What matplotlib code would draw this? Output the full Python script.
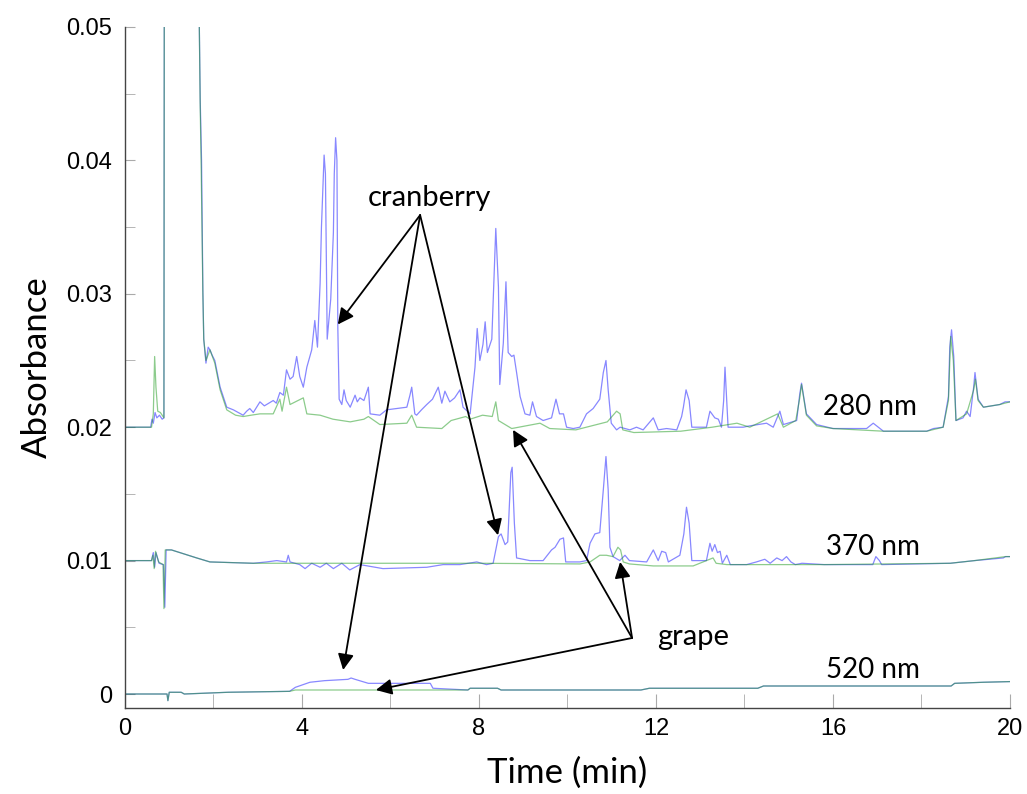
import matplotlib
matplotlib.use("Agg")
import matplotlib.pyplot as plt
from matplotlib.ticker import MultipleLocator, FixedLocator, FixedFormatter

# ---- data (time in min, absorbance) ----
t280_cran = [0.00, 0.58, 0.61, 0.64, 0.68, 0.72, 0.78, 0.84, 0.88, 0.89, 1.67, 1.68, 1.70, 1.73,
             1.76, 1.78, 1.83, 1.88, 1.92, 1.97, 2.03, 2.15, 2.30, 2.45, 2.67, 2.75, 2.82, 2.90,
             3.05, 3.15, 3.35, 3.42, 3.50, 3.58, 3.65, 3.73, 3.80, 3.88, 3.95, 4.03, 4.11, 4.22,
             4.29, 4.35, 4.41, 4.44, 4.48, 4.50, 4.53, 4.57, 4.65, 4.71, 4.73, 4.76, 4.79, 4.81,
             4.84, 4.90, 4.95, 5.00, 5.09, 5.20, 5.25, 5.31, 5.40, 5.50, 5.54, 5.76, 5.91, 6.14,
             6.37, 6.44, 6.48, 6.55, 6.59, 6.70, 6.82, 6.95, 7.08, 7.16, 7.23, 7.34, 7.45, 7.57,
             7.64, 7.80, 7.91, 7.96, 8.02, 8.09, 8.14, 8.19, 8.29, 8.35, 8.38, 8.44, 8.47, 8.55,
             8.61, 8.66, 8.74, 8.79, 8.85, 8.93, 9.04, 9.15, 9.21, 9.30, 9.45, 9.64, 9.74, 9.82,
             9.91, 9.98, 10.13, 10.28, 10.43, 10.58, 10.73, 10.81, 10.87, 10.92, 10.99, 11.11,
             11.19, 11.41, 11.56, 11.71, 11.94, 12.05, 12.24, 12.47, 12.58, 12.62, 12.68, 12.75,
             12.81, 13.14, 13.22, 13.33, 13.41, 13.48, 13.53, 13.56, 13.60, 13.63, 13.97, 14.12,
             14.50, 14.65, 14.80, 14.88, 15.18, 15.25, 15.29, 15.40, 15.63, 16.00, 16.76, 16.91,
             17.14, 18.12, 18.27, 18.49, 18.61, 18.64, 18.68, 18.73, 18.78, 18.94, 19.02, 19.10,
             19.18, 19.21, 19.28, 19.40, 19.77, 19.89, 20.00]
a280_cran = [0.0200, 0.0200, 0.0206, 0.0203, 0.0211, 0.0207, 0.0209, 0.0206, 0.0207, 0.0600, 0.0600, 0.0500, 0.0446, 0.0400,
             0.0303, 0.0266, 0.0248, 0.0260, 0.0258, 0.0254, 0.0250, 0.0230, 0.0215, 0.0213, 0.0209, 0.0212, 0.0214, 0.0211,
             0.0219, 0.0216, 0.0220, 0.0218, 0.0226, 0.0224, 0.0243, 0.0236, 0.0238, 0.0253, 0.0238, 0.0230, 0.0245, 0.0258,
             0.0280, 0.0260, 0.0308, 0.0350, 0.0385, 0.0404, 0.0390, 0.0266, 0.0296, 0.0346, 0.0390, 0.0417, 0.0400, 0.0275,
             0.0221, 0.0217, 0.0228, 0.0220, 0.0215, 0.0224, 0.0219, 0.0222, 0.0220, 0.0230, 0.0210, 0.0209, 0.0213, 0.0214,
             0.0215, 0.0224, 0.0230, 0.0210, 0.0209, 0.0213, 0.0217, 0.0221, 0.0230, 0.0218, 0.0227, 0.0219, 0.0222, 0.0228,
             0.0215, 0.0210, 0.0245, 0.0274, 0.0250, 0.0262, 0.0279, 0.0256, 0.0266, 0.0320, 0.0349, 0.0305, 0.0232, 0.0263,
             0.0309, 0.0256, 0.0253, 0.0254, 0.0241, 0.0223, 0.0210, 0.0209, 0.0219, 0.0208, 0.0205, 0.0207, 0.0221, 0.0210,
             0.0210, 0.0200, 0.0199, 0.0200, 0.0210, 0.0214, 0.0221, 0.0241, 0.0250, 0.0228, 0.0203, 0.0198,
             0.0200, 0.0198, 0.0200, 0.0198, 0.0207, 0.0198, 0.0199, 0.0198, 0.0208, 0.0215, 0.0228, 0.0220,
             0.0200, 0.0200, 0.0212, 0.0207, 0.0206, 0.0200, 0.0220, 0.0245, 0.0220, 0.0200, 0.0200, 0.0201,
             0.0203, 0.0200, 0.0212, 0.0202, 0.0205, 0.0225, 0.0233, 0.0210, 0.0202, 0.0199, 0.0199, 0.0203,
             0.0197, 0.0197, 0.0199, 0.0200, 0.0223, 0.0260, 0.0273, 0.0253, 0.0205, 0.0207, 0.0212, 0.0208,
             0.0230, 0.0241, 0.0221, 0.0215, 0.0217, 0.0219, 0.0219]

t280_grape = [0.00, 0.60, 0.64, 0.67, 0.70, 0.74, 0.80, 0.88, 0.89, 1.67, 1.68, 1.70, 1.72, 1.76, 1.78,
              1.83, 1.92, 2.03, 2.15, 2.30, 2.50, 2.67, 2.85, 3.05, 3.35, 3.50, 3.55, 3.65, 3.73, 4.03,
              4.11, 4.41, 4.70, 5.09, 5.40, 5.50, 5.76, 6.37, 6.48, 6.59, 7.16, 7.37, 7.70, 7.80, 8.08,
              8.30, 8.38, 8.44, 8.74, 9.38, 9.60, 10.19, 10.90, 11.11, 11.19, 11.25, 11.50, 12.56, 13.27,
              13.83, 14.12, 14.75, 14.88, 15.16, 15.25, 15.29, 15.40, 15.63, 16.00, 17.14, 18.12, 18.49,
              18.61, 18.66, 18.72, 18.78, 19.02, 19.18, 19.22, 19.28, 19.40, 19.77, 20.00]
a280_grape = [0.0200, 0.0200, 0.0210, 0.0253, 0.0230, 0.0212, 0.0211, 0.0207, 0.0600, 0.0600, 0.0500, 0.0440, 0.0400, 0.0300, 0.0266,
              0.0250, 0.0258, 0.0248, 0.0228, 0.0213, 0.0209, 0.0208, 0.0209, 0.0210, 0.0210, 0.0221, 0.0212, 0.0230, 0.0217, 0.0222,
              0.0210, 0.0209, 0.0206, 0.0204, 0.0206, 0.0208, 0.0202, 0.0203, 0.0209, 0.0200, 0.0199, 0.0205, 0.0208, 0.0206, 0.0209,
              0.0208, 0.0219, 0.0205, 0.0199, 0.0203, 0.0199, 0.0198, 0.0204, 0.0212, 0.0210, 0.0198, 0.0196, 0.0197, 0.0200,
              0.0203, 0.0200, 0.0210, 0.0200, 0.0205, 0.0222, 0.0232, 0.0209, 0.0201, 0.0199, 0.0197, 0.0197, 0.0200,
              0.0220, 0.0268, 0.0250, 0.0205, 0.0210, 0.0228, 0.0236, 0.0220, 0.0215, 0.0217, 0.0219]

t370_cran = [0.00, 0.60, 0.64, 0.67, 0.70, 0.77, 0.87, 0.90, 0.93, 1.05, 1.24, 1.62, 1.92, 2.90, 3.20,
             3.43, 3.65, 3.69, 3.73, 3.95, 4.07, 4.22, 4.41, 4.55, 4.71, 4.90, 5.08, 5.31, 5.83, 6.82,
             7.19, 7.57, 7.95, 8.17, 8.32, 8.44, 8.50, 8.59, 8.65, 8.72, 8.75, 8.80, 8.85, 9.15, 9.45,
             9.64, 9.72, 9.83, 9.91, 9.96, 10.28, 10.43, 10.51, 10.62, 10.73, 10.81, 10.87, 10.92, 10.96,
             11.03, 11.18, 11.30, 11.40, 11.79, 11.94, 12.05, 12.13, 12.22, 12.28, 12.54, 12.63, 12.69,
             12.75, 12.81, 13.14, 13.22, 13.27, 13.33, 13.39, 13.45, 13.50, 13.60, 13.68, 14.05, 14.27,
             14.46, 14.58, 14.73, 14.85, 14.95, 15.05, 15.15, 15.30, 15.80, 16.90, 16.97, 17.05, 17.10,
             18.65, 19.20, 19.85, 19.90, 20.00]
a370_cran = [0.0100, 0.0100, 0.0106, 0.0095, 0.0106, 0.0098, 0.0097, 0.0065, 0.0108, 0.0108, 0.0106, 0.0102, 0.0099, 0.0098, 0.0099,
             0.0100, 0.0099, 0.0104, 0.0099, 0.0097, 0.0094, 0.0098, 0.0095, 0.0098, 0.0094, 0.0098, 0.0093, 0.0097, 0.0094, 0.0095,
             0.0097, 0.0097, 0.0099, 0.0097, 0.0098, 0.0118, 0.0120, 0.0112, 0.0114, 0.0166, 0.0170, 0.0128, 0.0102, 0.0100, 0.0100,
             0.0108, 0.0110, 0.0116, 0.0117, 0.0099, 0.0099, 0.0100, 0.0113, 0.0120, 0.0121, 0.0153, 0.0178, 0.0153, 0.0110,
             0.0103, 0.0100, 0.0104, 0.0100, 0.0099, 0.0108, 0.0100, 0.0107, 0.0106, 0.0099, 0.0104, 0.0120, 0.0140,
             0.0128, 0.0100, 0.0100, 0.0113, 0.0107, 0.0112, 0.0106, 0.0107, 0.0098, 0.0104, 0.0097, 0.0097, 0.0099,
             0.0101, 0.0098, 0.0102, 0.0100, 0.0103, 0.0099, 0.0097, 0.0098, 0.0097, 0.0097, 0.0103, 0.0100, 0.0097,
             0.0098, 0.0100, 0.0102, 0.0103, 0.0103]

t370_grape = [0.00, 0.60, 0.63, 0.66, 0.69, 0.76, 0.86, 0.88, 0.91, 1.05, 1.24, 1.62, 1.92, 2.90, 3.50,
              8.00, 10.28, 10.51, 10.73, 10.88, 11.03, 11.14, 11.20, 11.26, 11.40, 11.94, 12.84, 13.29,
              13.36, 13.60, 15.80, 18.65, 19.20, 19.90, 20.00]
a370_grape = [0.0100, 0.0100, 0.0104, 0.0094, 0.0107, 0.0099, 0.0097, 0.0064, 0.0108, 0.0108, 0.0106, 0.0102, 0.0099, 0.0098, 0.0098,
              0.0098, 0.00975, 0.0099, 0.0104, 0.0104, 0.0103, 0.0110, 0.0108, 0.0099, 0.00975, 0.0096, 0.0096, 0.0102,
              0.0098, 0.0097, 0.0097, 0.0098, 0.0100, 0.0103, 0.0103]

t520_cran = [0.00, 0.95, 0.97, 1.00, 1.27, 1.34, 2.33, 3.72, 3.85, 4.18, 4.51, 5.04, 5.11, 5.20, 5.50,
             6.90, 6.96, 7.75, 7.80, 8.42, 8.50, 11.66, 11.85, 14.30, 14.43, 18.67, 18.75, 19.40, 20.00]
a520_cran = [0.0000, 0.0000, -0.0005, 0.00013, 0.00013, 0.0000, 0.00013, 0.0002, 0.0005, 0.00088, 0.0010, 0.0011, 0.0012, 0.0011, 0.0008,
             0.0008, 0.00043, 0.0003, 0.00043, 0.00043, 0.0003, 0.0003, 0.00043, 0.00043, 0.0006, 0.0006, 0.0008, 0.00088, 0.00093]

t520_grape = [0.00, 0.95, 0.97, 1.00, 1.27, 1.34, 2.33, 3.72, 3.85, 7.75, 7.80, 8.42, 8.50, 11.66, 11.85,
              14.30, 14.43, 18.67, 18.75, 19.40, 20.00]
a520_grape = [0.0000, 0.0000, -0.0005, 0.00013, 0.00013, 0.0000, 0.00013, 0.0002, 0.0003, 0.0003, 0.00043, 0.00043, 0.0003, 0.0003, 0.00043,
              0.00043, 0.0006, 0.0006, 0.0008, 0.00088, 0.00093]

x_ticks = [0, 4, 8, 12, 16, 20]
y_ticks = [0, 0.01, 0.02, 0.03, 0.04, 0.05]
y_tick_labels = ["0", "0.01", "0.02", "0.03", "0.04", "0.05"]

wavelength_labels = ["280 nm", "370 nm", "520 nm"]
wavelength_pos = [(15.77, 0.0215), (15.84, 0.0110), (15.84, 0.0018)]

cran_text = (6.89, 0.0372)
cran_src = (6.67, 0.0359)
cran_targets = [(4.81, 0.0277), (8.43, 0.0119), (4.93, 0.0018)]
grape_text = (12.02, 0.0043)
grape_src = (11.46, 0.0042)
grape_targets = [(8.77, 0.0198), (11.19, 0.0099), (5.67, 0.0003)]

label_font = ["Lato", "DejaVu Sans"]

fig = plt.figure(figsize=(10.27, 7.94), dpi=100)
ax = fig.add_axes([0.1217, 0.1083, 0.8617, 0.8577])

green = (0.1, 0.6, 0.1)
blue = (0.15, 0.15, 1.0)
for tt, aa in [(t280_cran, a280_cran), (t370_cran, a370_cran), (t520_cran, a520_cran)]:
    ax.plot(tt, aa, color=blue, lw=0.9, alpha=0.55)
for tt, aa in [(t280_grape, a280_grape), (t370_grape, a370_grape), (t520_grape, a520_grape)]:
    ax.plot(tt, aa, color=green, lw=0.9, alpha=0.5)

ax.set_xlim(0, 20)
ax.set_ylim(-0.00105, 0.05)

ax.xaxis.set_major_locator(FixedLocator(x_ticks))
ax.xaxis.set_minor_locator(MultipleLocator(2))
ax.yaxis.set_major_locator(FixedLocator(y_ticks))
ax.yaxis.set_major_formatter(FixedFormatter(y_tick_labels))
ax.yaxis.set_minor_locator(MultipleLocator(0.005))
ax.tick_params(axis="x", which="both", direction="in", length=10, color="#aaaaaa",
               labelsize=17, pad=7)
ax.tick_params(axis="y", which="both", direction="in", length=7, color="#aaaaaa",
               labelsize=17, pad=9)
for lab in ax.get_xticklabels() + ax.get_yticklabels():
    lab.set_fontfamily("Liberation Sans")

for side in ["top", "right"]:
    ax.spines[side].set_visible(False)
for side in ["left", "bottom"]:
    ax.spines[side].set_color("#444444")
    ax.spines[side].set_linewidth(1.0)

ax.set_xlabel("Time (min)", fontsize=25, family=label_font, labelpad=12)
ax.set_ylabel("Absorbance", fontsize=25, family=label_font, labelpad=10)

for lab, (x, y) in zip(wavelength_labels, wavelength_pos):
    ax.text(x, y, lab, fontsize=20, family=label_font, va="center", ha="left")

ax.text(cran_text[0], cran_text[1], "cranberry", fontsize=21, family=label_font,
        ha="center", va="center")
ax.text(grape_text[0], grape_text[1], "grape", fontsize=21, family=label_font,
        ha="left", va="center")

arrow = dict(arrowstyle="-|>", color="black", lw=1.3, mutation_scale=24,
             shrinkA=0, shrinkB=0)
for tgt in cran_targets:
    ax.annotate("", xy=tgt, xytext=cran_src, arrowprops=arrow, annotation_clip=False)
for tgt in grape_targets:
    ax.annotate("", xy=tgt, xytext=grape_src, arrowprops=arrow, annotation_clip=False)

fig.savefig("out.png", dpi=100)
